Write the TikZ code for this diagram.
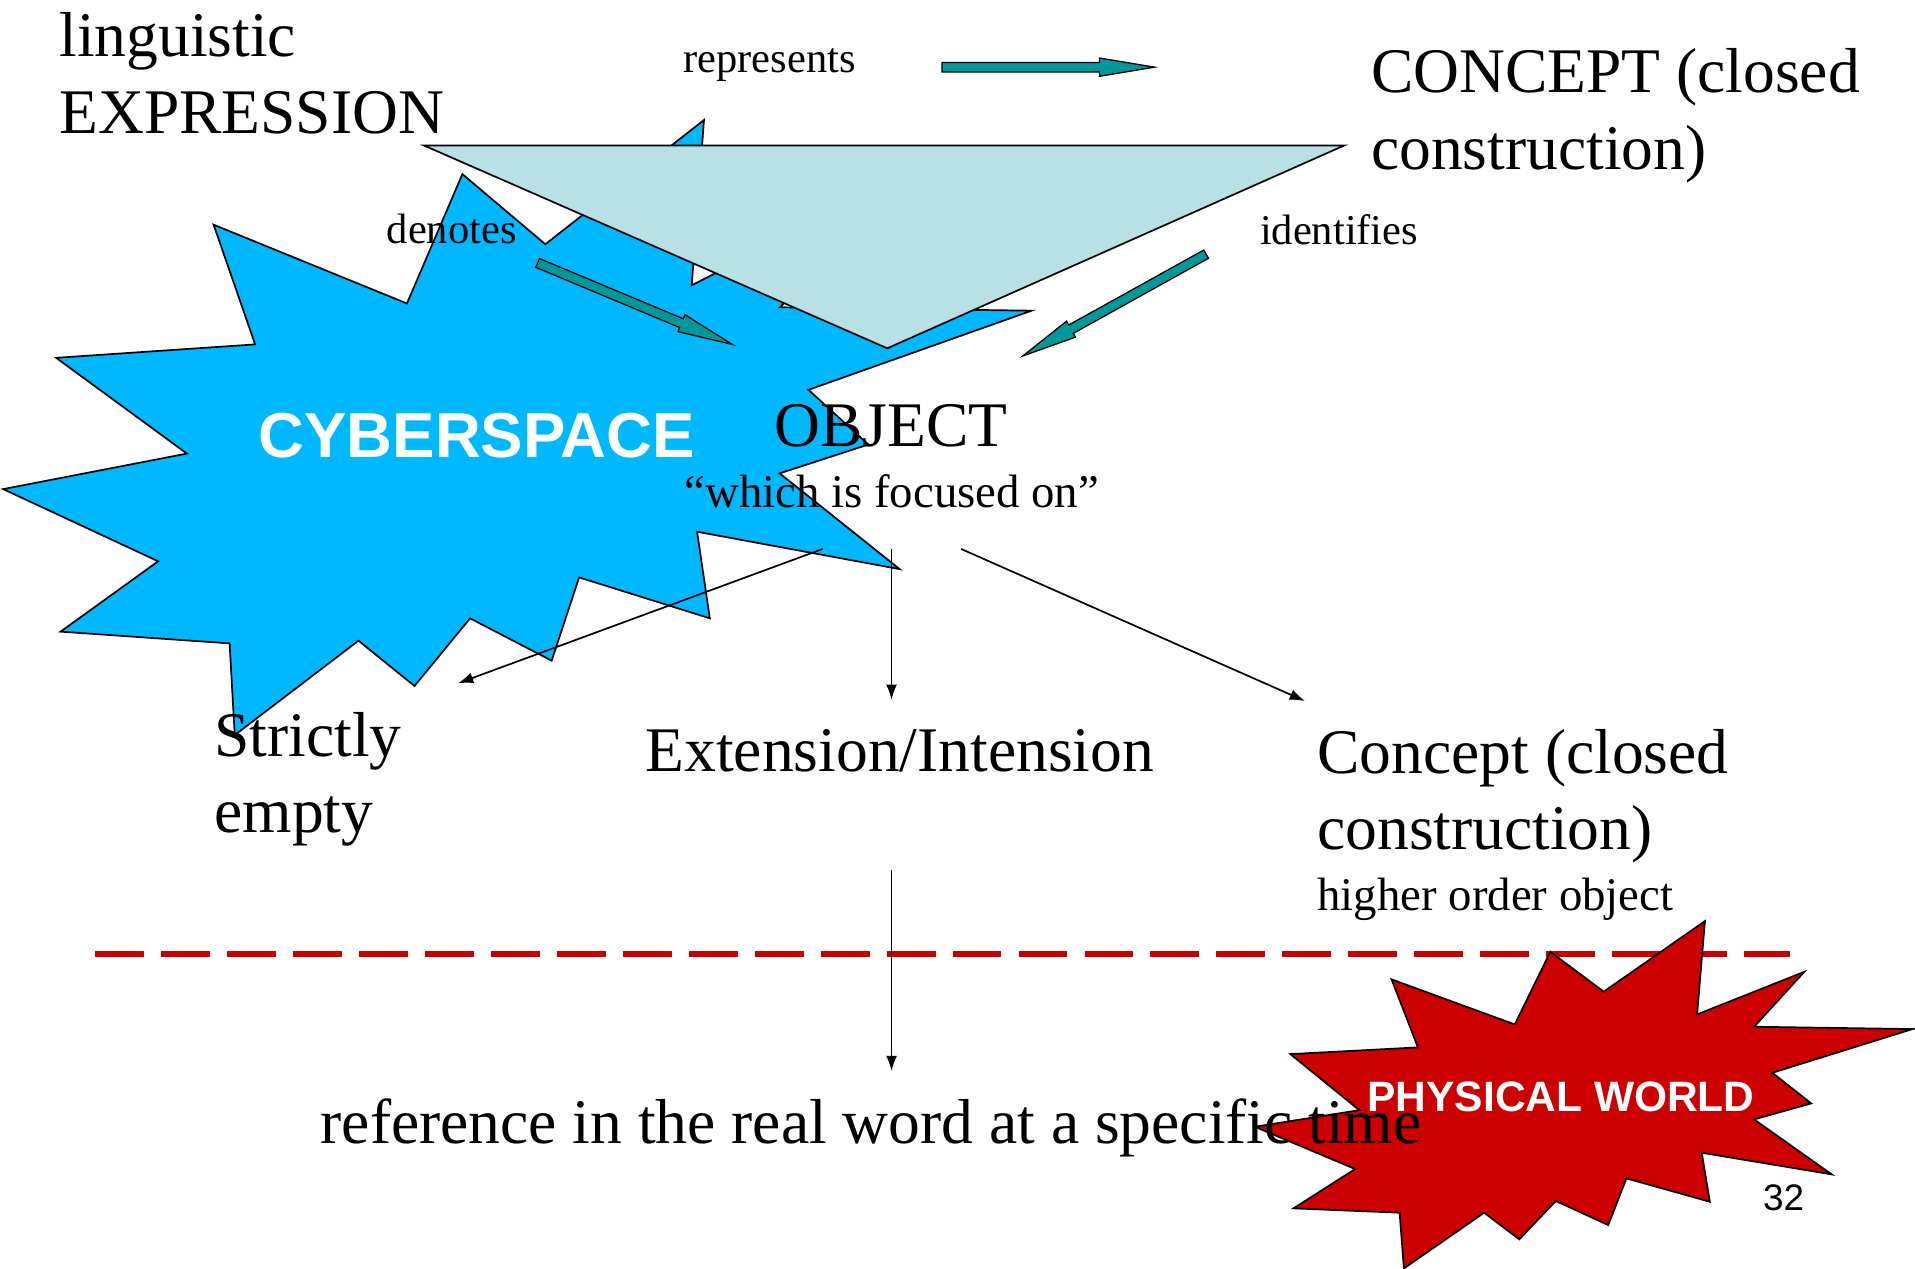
\documentclass[tikz,border=0pt]{standalone}
\usepackage{fontspec}
\setmainfont{Liberation Serif}
\newfontfamily\arialfont{Liberation Sans}
\usetikzlibrary{calc,arrows.meta}
\definecolor{cyberblue}{RGB}{0,184,255}
\definecolor{trifill}{RGB}{185,224,228}
\definecolor{arrowteal}{RGB}{0,153,153}
\definecolor{worldred}{RGB}{204,0,0}
\tikzset{
  bigtext/.style={inner sep=0,anchor=base west,align=left,font=\fontsize{14.8}{17.8}\selectfont},
  midtext/.style={inner sep=0,anchor=base west,font=\fontsize{10.9}{13.1}\selectfont},
  smalltext/.style={inner sep=0,anchor=base west,font=\fontsize{9.9}{11.9}\selectfont},
  burst/.style={draw=black,line width=0.4pt,line join=miter},
  tealshape/.style={draw=black,fill=arrowteal,line width=0.3pt,line join=miter},
  thinarrow/.style={-{Latex[length=1.25mm,width=0.9mm]},line width=0.4pt}
}
\newcommand\tealarrow[2]{%
  \coordinate(hb)at($(#2)!4.5mm!(#1)$);
  \draw[tealshape]($(#1)!0.39mm!90:(#2)$)--($(hb)!0.39mm!-90:(#1)$)--($(hb)!0.75mm!-90:(#1)$)--(#2)--($(hb)!0.75mm!90:(#1)$)--($(hb)!0.39mm!90:(#1)$)--($(#1)!0.39mm!-90:(#2)$)--cycle;}
\begin{document}
\begin{tikzpicture}[x=0.1mm,y=-0.1mm]
    \useasboundingbox(0,0)rectangle(1568,1039);
    \coordinate(reptail)at(771.3,55);
    \coordinate(reptip)at(945.2,55);
    \coordinate(dentail)at(440.2,215.3);
    \coordinate(dentip)at(599.5,282);
    \coordinate(idtail)at(987.6,208.1);
    \coordinate(idtip)at(837.6,291.4);
    \coordinate(leftfrom)at(673.6,449.5);
    \coordinate(leftto)at(375,559.5);
    \coordinate(midfrom)at(730,449.5);
    \coordinate(midto)at(730,573);
    \coordinate(rightfrom)at(787,449.5);
    \coordinate(rightto)at(1068.5,574);
    \coordinate(reffrom)at(730,712.3);
    \coordinate(refto)at(730,877);
    \coordinate(dashl)at(78,781);
    \coordinate(dashr)at(1466,781);
    \draw[burst,fill=cyberblue](576.4,98.3)--(446.5,200)--(378.6,142.6)--(333.2,248.5)--(174.9,184)--(208.9,282)
        --(46,293)--(153,371.4)--(2.6,400.5)--(129.5,459.6)--(49.6,517.2)--(188,526.8)--(192.2,601.9)
        --(293.5,524.6)--(339.4,561.7)--(384.9,506.3)--(451.7,541)--(474.2,472.8)--(581.2,506.3)
        --(570.8,435.4)--(736.6,466)--(638.4,387.6)--(711,364)--(662,319.2)--(844.7,254.4)
        --(638.7,251.6)--(740,145)--(566.4,233.6)--cycle;
    \draw[burst,fill=trifill](347.3,119.2)--(1100.5,119.2)--(726.5,285.2)--cycle;
    \draw[worldred,line width=0.45mm,dash pattern=on 4mm off 1.4mm](dashl)--(dashr);
    \draw[burst,fill=worldred](1396,754.2)--(1389.6,830.6)--(1477.4,795.7)--(1436.3,840.7)--(1566,842.6)
        --(1451.2,878.4)--(1483,903.5)--(1436.3,916.6)--(1499.8,961.6)--(1393.4,943.9)--(1400,984)
        --(1331.7,964.9)--(1316.8,1003.1)--(1273.9,983.4)--(1244,1014.8)--(1215.2,993)--(1149.5,1038.6)
        --(1146,993)--(1059.1,989.4)--(1109.6,957.2)--(1027.4,922.6)--(1113,909)--(1056.5,863.1)
        --(1161,857.6)--(1139.4,801.9)--(1240.3,838.8)--(1269.4,779.3)--(1313.1,812)--cycle;
    \tealarrow{reptail}{reptip}
    \tealarrow{dentail}{dentip}
    \tealarrow{idtail}{idtip}
    \draw[thinarrow](leftfrom)--(leftto);
    \draw[thinarrow](midfrom)--(midto);
    \draw[thinarrow](rightfrom)--(rightto);
    \draw[thinarrow](reffrom)--(refto);
    \node[bigtext]at(48,109)(ling){linguistic\\EXPRESSION};
    \node[smalltext]at(559,59.5)(rep){represents};
    \node[bigtext]at(1122,138.6)(concept){CONCEPT (closed\\construction)};
    \node[smalltext]at(316,199.6)(den){denotes};
    \node[smalltext]at(1031,199.8)(ident){identifies};
    \node[inner sep=0,anchor=base west,text=white,font=\arialfont\bfseries\fontsize{14.8}{17.2}\selectfont]at(211,374.5)(cyber){CYBERSPACE};
    \node[bigtext]at(633.4,366)(object){OBJECT};
    \node[midtext]at(559.8,415.8)(focus){“which is focused on”};
    \node[bigtext]at(175,681.6)(strict){Strictly\\empty};
    \node[bigtext]at(528,631.8)(extint){Extension/Intension};
    \node[bigtext]at(1078,695.5)(concepttwo){Concept (closed\\construction)};
    \node[midtext]at(1078,745.6)(hoo){higher order object};
    \node[bigtext]at(262,936.3)(ref){reference in the real word at a specific time};
    \node[inner sep=0,anchor=base west,text=white,font=\arialfont\bfseries\fontsize{9.9}{12}\selectfont]at(1119,909.8)(phys){PHYSICAL WORLD};
    \node[inner sep=0,anchor=base west,font=\arialfont\fontsize{8.6}{10}\selectfont]at(1443,991.3)(pagenum){32};
\end{tikzpicture}
\end{document}
